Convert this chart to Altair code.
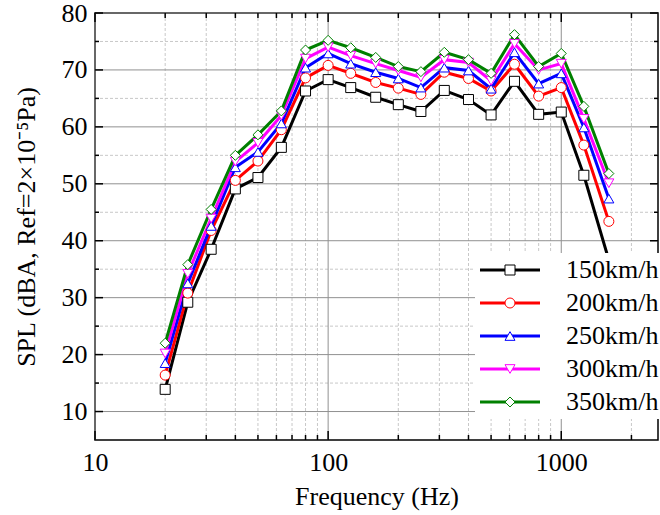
import altair as alt
import pandas as pd

# One-third octave band centre frequencies (Hz)
freq = [20, 25, 31.5, 40, 50, 63, 80, 100, 125, 160, 200, 250, 315, 400, 500,
        630, 800, 1000, 1250, 1600]

speeds = ["150km/h", "200km/h", "250km/h", "300km/h", "350km/h"]

# A-weighted sound pressure level per band, dBA
spl_150 = [13.9, 29.2, 38.5, 49.1, 51.1, 56.4, 66.3, 68.3, 66.9, 65.2, 63.9, 62.7,
           66.4, 64.8, 62.1, 68.0, 62.2, 62.6, 51.5, 36.6]
spl_200 = [16.4, 30.8, 41.8, 50.6, 54.0, 59.5, 68.6, 70.8, 69.4, 67.8, 66.8, 65.7,
           69.6, 68.5, 66.3, 71.0, 65.4, 66.9, 56.8, 43.4]
spl_250 = [18.5, 32.5, 42.6, 52.9, 55.6, 60.6, 70.4, 72.9, 71.1, 69.6, 68.5, 66.9,
           70.4, 69.9, 66.7, 73.1, 67.6, 69.4, 59.9, 47.4]
spl_300 = [20.2, 34.2, 43.9, 53.9, 57.2, 62.0, 72.0, 74.0, 72.5, 71.1, 69.9, 68.7,
           71.8, 71.3, 68.1, 74.6, 70.0, 71.1, 61.4, 50.1]
spl_350 = [22.0, 35.8, 45.5, 55.0, 58.6, 62.8, 73.5, 75.2, 73.9, 72.2, 70.6, 69.7,
           73.1, 71.8, 69.4, 76.2, 70.6, 72.9, 63.6, 51.8]

colors = ["#000000", "#ff0000", "#0000ff", "#ff00ff", "#008000"]
shapes = ["square", "circle", "triangle-up", "triangle-down", "diamond"]

# Tick and grid positions
x_major = [10, 100, 1000]
x_minor = [20, 30, 40, 50, 60, 70, 80, 90,
           200, 300, 400, 500, 600, 700, 800, 900, 2000]
y_major = [10, 20, 30, 40, 50, 60, 70, 80]
y_minor = [15, 25, 35, 45, 55, 65, 75]

FONT = "Liberation Serif"
W, H = 563, 427

rows = []
for s, vals in zip(speeds, [spl_150, spl_200, spl_250, spl_300, spl_350]):
    for f, v in zip(freq, vals):
        rows.append({"freq": f, "spl": v, "speed": s, "speed_m": s})
df = pd.DataFrame(rows)

x_scale = alt.Scale(type="log", domain=[10, 2600], nice=False)
y_scale = alt.Scale(domain=[5, 80], nice=False, zero=False)

x_axis = alt.Axis(
    values=x_major, format="d", title="Frequency (Hz)",
    labelFlush=False, labelOverlap=False, grid=False,
    ticks=False, domain=False, labelPadding=9, titlePadding=8,
)
y_axis = alt.Axis(
    values=y_major, format="d", title="SPL (dBA, Ref=2×10⁻⁵Pa)",
    labelFlush=False, labelOverlap=False, grid=False,
    ticks=False, domain=False, labelPadding=8, titlePadding=22,
)

legend_common = dict(
    title=None, orient="none", legendX=380, legendY=240, padding=4,
    symbolOffset=18, labelOffset=43, rowPadding=7,
    labelFont=FONT, labelFontSize=26, labelColor="black", labelLimit=400,
)
legend_lines = alt.Legend(
    fillColor="white", symbolType="M-6,0H6", symbolSize=100,
    symbolStrokeWidth=3, **legend_common,
)
legend_marks = alt.Legend(
    symbolSize=100, symbolStrokeWidth=1, symbolFillColor="white",
    labelOpacity=0, **legend_common,
)


# Grid lines: solid grey at decades / tens, dashed light grey in between
def vgrid(values, color, dash):
    src = alt.Chart(pd.DataFrame({"freq": values}))
    return src.mark_rule(color=color, strokeWidth=1, strokeDash=dash).encode(
        x=alt.X("freq:Q", scale=x_scale, axis=x_axis))


def hgrid(values, color, dash):
    src = alt.Chart(pd.DataFrame({"spl": values}))
    return src.mark_rule(color=color, strokeWidth=1, strokeDash=dash).encode(
        y=alt.Y("spl:Q", scale=y_scale, axis=y_axis))


grid_layers = [
    vgrid(x_minor, "#c8c8c8", [3, 2]),
    hgrid(y_minor, "#c8c8c8", [3, 2]),
    vgrid(x_major, "#909090", [1, 0]),
    hgrid(y_major, "#909090", [1, 0]),
]

base = alt.Chart(df)

lines = base.mark_line(strokeWidth=3).encode(
    x=alt.X("freq:Q", scale=x_scale, axis=x_axis),
    y=alt.Y("spl:Q", scale=y_scale, axis=y_axis),
    color=alt.Color("speed:N", scale=alt.Scale(domain=speeds, range=colors),
                    legend=legend_lines),
)

# Marker legend sits on top of the line legend; its domain comes from the
# data column so that it stays a separate legend.
points = base.mark_point(filled=True, fill="white", strokeWidth=1, size=100,
                         opacity=1).encode(
    x=alt.X("freq:Q", scale=x_scale, axis=x_axis),
    y=alt.Y("spl:Q", scale=y_scale, axis=y_axis),
    stroke=alt.Stroke("speed_m:N", scale=alt.Scale(range=colors),
                      legend=legend_marks),
    shape=alt.Shape("speed_m:N", scale=alt.Scale(range=shapes),
                    legend=legend_marks),
)


# Inward-pointing ticks on all four sides of the frame
def xticks(values, length):
    src = alt.Chart(pd.DataFrame({"freq": values}))
    bottom = src.mark_rule(color="black", strokeWidth=1.5).encode(
        x=alt.X("freq:Q", scale=x_scale, axis=x_axis),
        y=alt.value(H), y2=alt.value(H - length))
    top = src.mark_rule(color="black", strokeWidth=1.5).encode(
        x=alt.X("freq:Q", scale=x_scale, axis=x_axis),
        y=alt.value(0), y2=alt.value(length))
    return [bottom, top]


def yticks(values, length):
    src = alt.Chart(pd.DataFrame({"spl": values}))
    left = src.mark_rule(color="black", strokeWidth=1.5).encode(
        y=alt.Y("spl:Q", scale=y_scale, axis=y_axis),
        x=alt.value(0), x2=alt.value(length))
    right = src.mark_rule(color="black", strokeWidth=1.5).encode(
        y=alt.Y("spl:Q", scale=y_scale, axis=y_axis),
        x=alt.value(W), x2=alt.value(W - length))
    return [left, right]


tick_layers = (xticks(x_major, 9) + xticks(x_minor, 5)
               + yticks(y_major, 8) + yticks(y_minor, 4))

chart = alt.layer(*grid_layers, lines, points, *tick_layers).properties(
    width=W, height=H,
    padding={"left": 95, "top": 13, "right": 2, "bottom": 75},
    autosize="none",
).configure_axis(
    labelFont=FONT, titleFont=FONT, labelFontSize=26, titleFontSize=26,
    labelColor="black", titleColor="black", titleFontWeight="normal",
).configure_view(
    stroke="black", strokeWidth=1.5,
)

chart.save("out.html", embed_options={"renderer": "svg", "actions": False})
